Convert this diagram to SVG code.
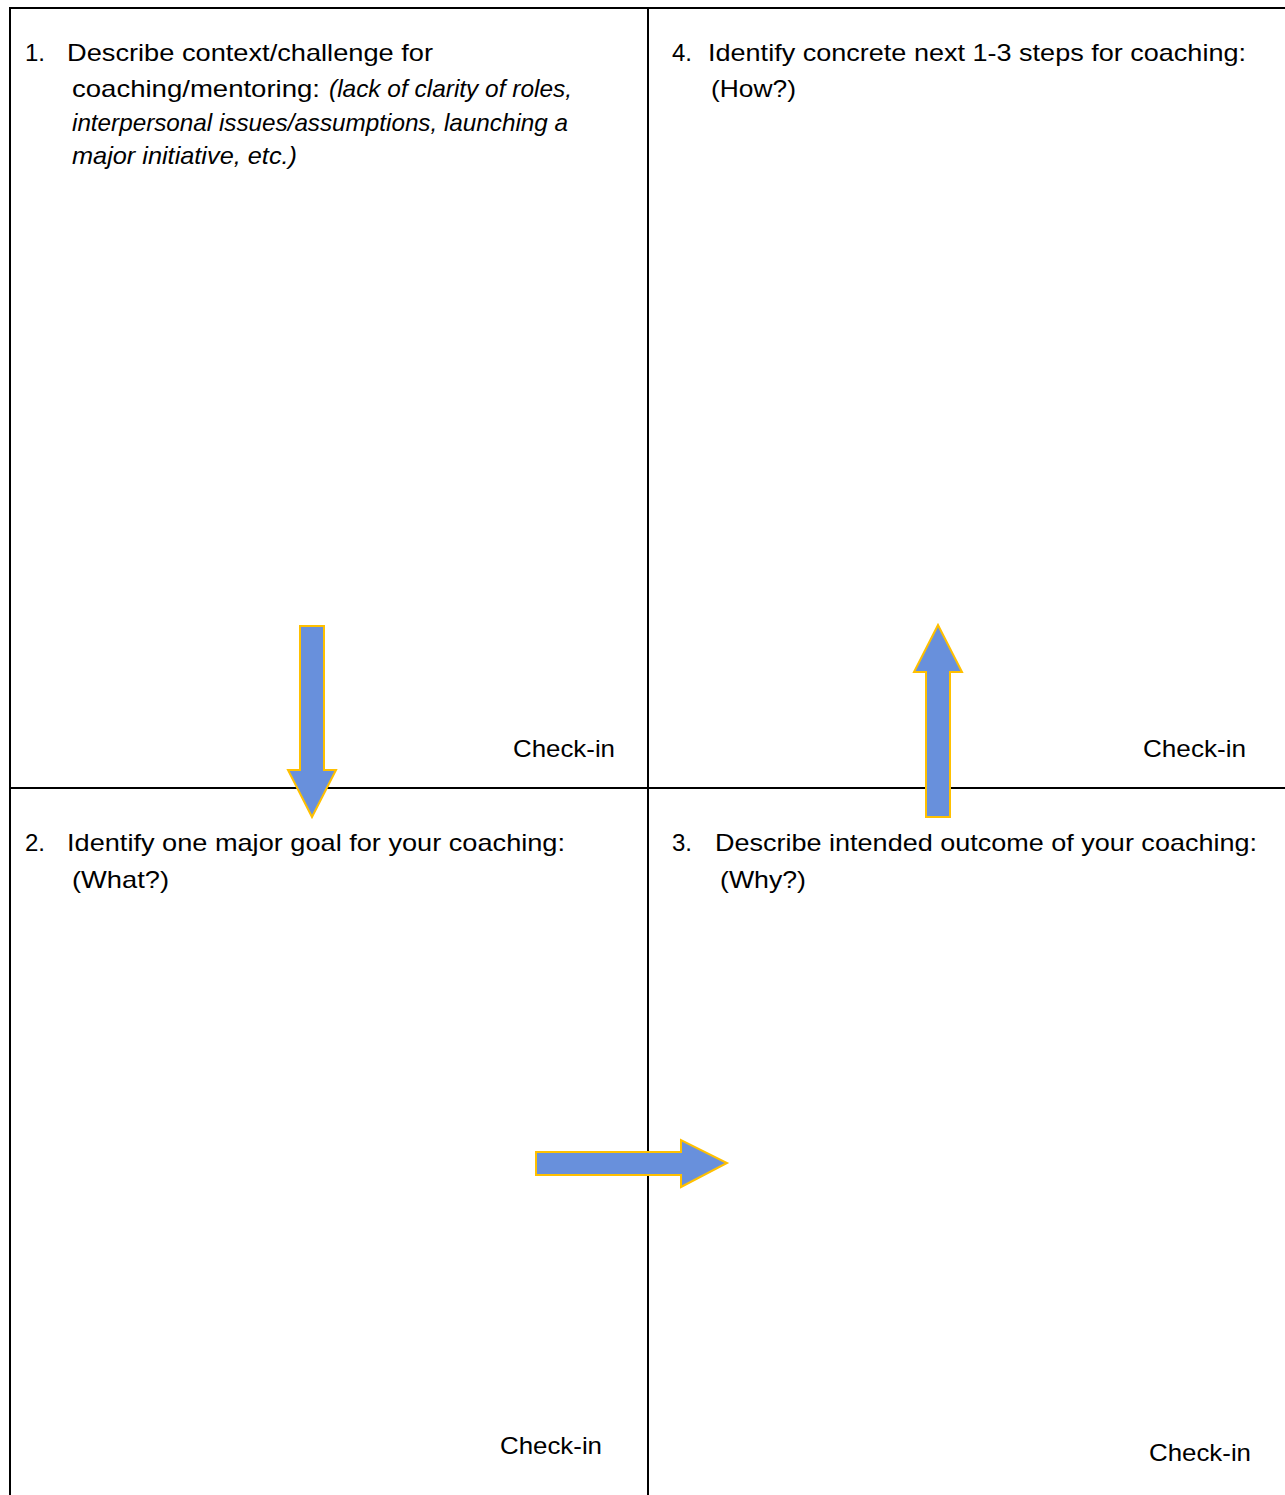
<svg xmlns="http://www.w3.org/2000/svg" width="1285" height="1495" viewBox="0 0 1285 1495">
<style>
.t{font-family:"Liberation Sans",Arial,sans-serif;font-size:24px;fill:#000}
.i{font-style:italic}
.ln{stroke:#000;stroke-width:2;fill:none}
.ar{fill:#6890DC;stroke:#FFC000;stroke-width:2;stroke-linejoin:miter}
</style>
<rect width="1285" height="1495" fill="#fff"/>
<g id="grid">
<path class="ln" d="M10,1495 V8 H1285 M648,8 V1495 M10,788 H1285"/>
</g>
<g id="node1">
<text class="t" x="25" y="61">1.</text>
<text class="t" x="67" y="61" textLength="366" lengthAdjust="spacingAndGlyphs">Describe context/challenge for</text>
<text class="t" x="72" y="97" textLength="248" lengthAdjust="spacingAndGlyphs">coaching/mentoring:</text>
<text class="t i" x="329" y="97" textLength="243" lengthAdjust="spacingAndGlyphs">(lack of clarity of roles,</text>
<text class="t i" x="72" y="131" textLength="496" lengthAdjust="spacingAndGlyphs">interpersonal issues/assumptions, launching a</text>
<text class="t i" x="72" y="164" textLength="225" lengthAdjust="spacingAndGlyphs">major initiative, etc.)</text>
<text class="t" x="513" y="757" textLength="102" lengthAdjust="spacingAndGlyphs">Check-in</text>
</g>
<g id="node4">
<text class="t" x="672" y="61">4.</text>
<text class="t" x="708" y="61" textLength="538" lengthAdjust="spacingAndGlyphs">Identify concrete next 1-3 steps for coaching:</text>
<text class="t" x="711" y="97" textLength="85" lengthAdjust="spacingAndGlyphs">(How?)</text>
<text class="t" x="1143" y="757" textLength="103" lengthAdjust="spacingAndGlyphs">Check-in</text>
</g>
<g id="node2">
<text class="t" x="25" y="851">2.</text>
<text class="t" x="67" y="851" textLength="498" lengthAdjust="spacingAndGlyphs">Identify one major goal for your coaching:</text>
<text class="t" x="72" y="888" textLength="97" lengthAdjust="spacingAndGlyphs">(What?)</text>
<text class="t" x="500" y="1454" textLength="102" lengthAdjust="spacingAndGlyphs">Check-in</text>
</g>
<g id="node3">
<text class="t" x="672" y="851">3.</text>
<text class="t" x="715" y="851" textLength="542" lengthAdjust="spacingAndGlyphs">Describe intended outcome of your coaching:</text>
<text class="t" x="720" y="888" textLength="86" lengthAdjust="spacingAndGlyphs">(Why?)</text>
<text class="t" x="1149" y="1461" textLength="102" lengthAdjust="spacingAndGlyphs">Check-in</text>
</g>
<g id="connectors">
<path class="ar" d="M300,626 H324 V770 H336 L312,817 L288,770 H300 Z"/>
<path class="ar" d="M536,1152 H681 V1140 L727,1163 L681,1187 V1175 H536 Z"/>
<path class="ar" d="M926,817 V672 H914 L938,625 L962,672 H950 V817 Z"/>
</g>
</svg>
